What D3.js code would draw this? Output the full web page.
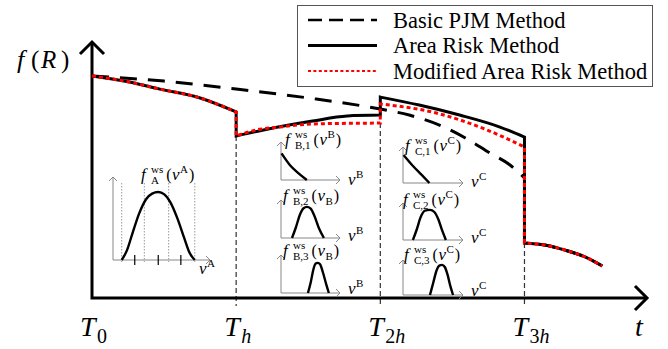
<!DOCTYPE html>
<html>
<head>
<meta charset="utf-8">
<script src="https://cdn.jsdelivr.net/npm/d3@7/dist/d3.min.js"></script>
<style>
  body { margin: 0; background: #fff; }
  svg { display: block; }
</style>
</head>
<body>
<div id="chart"></div>
<script>
// time in units of h, f(R) normalised so that f(R) at T0 = 1
const TIME_TICKS = [0, 1, 2, 3];
const TIME_SUBS = [['0'], ['h'], ['2', 'h'], ['3', 'h']];
const GUIDE_TIMES = [1, 2, 3];
const GUIDE_TOPS = [0.730, 0.788, 0.248];

const LEGEND_LABELS = ['Basic PJM Method', 'Area Risk Method', 'Modified Area Risk Method'];

const FIRST_PERIOD = [[0, 1.0], [0.26, 0.973], [0.47, 0.941], [0.75, 0.901], [1.0, 0.838]];
const TAIL = [[3.0, 0.248], [3.14, 0.239], [3.28, 0.216], [3.42, 0.185], [3.54, 0.144]];

const PJM = [
  [[0, 1.0], [0.5, 0.977], [1.0, 0.941], [1.5, 0.901], [2.0, 0.851], [2.2, 0.824],
   [2.41, 0.779], [2.59, 0.721], [2.76, 0.653], [2.9, 0.599], [3.0, 0.541]],
  TAIL
];
const AREA = [
  FIRST_PERIOD,
  [[1.0, 0.730], [1.19, 0.757], [1.53, 0.797], [1.77, 0.820], [2.0, 0.824]],
  [[2.0, 0.905], [2.27, 0.869], [2.55, 0.824], [2.83, 0.770], [3.0, 0.725]],
  TAIL
];
const MODIFIED = [
  FIRST_PERIOD,
  [[1.0, 0.730], [1.14, 0.757], [1.3, 0.770], [1.53, 0.784], [2.0, 0.788]],
  [[2.0, 0.874], [2.39, 0.833], [2.74, 0.757], [3.0, 0.680]],
  TAIL
];

// wind speed densities in the small panels (both axes 0..1)
const CURVE_A = [[0.10, 0], [0.16, 0.12], [0.22, 0.32], [0.30, 0.58], [0.38, 0.76], [0.45, 0.83],
  [0.52, 0.85], [0.59, 0.82], [0.66, 0.72], [0.74, 0.52], [0.82, 0.27], [0.88, 0.09], [0.94, 0]];
const A_DOTTED = [0.10, 0.36, 0.64, 0.94];
const A_TICKS = [0.25, 0.52, 0.78];
const CURVE_B1 = [[0.01, 0.76], [0.16, 0.43], [0.32, 0.19], [0.47, 0]];
const CURVE_B2 = [[0.2, 0], [0.27, 0.3], [0.34, 0.65], [0.41, 0.85], [0.47, 0.89], [0.54, 0.84],
  [0.61, 0.62], [0.69, 0.28], [0.78, 0]];
const CURVE_B3 = [[0.49, 0], [0.54, 0.3], [0.59, 0.68], [0.63, 0.84], [0.67, 0.86], [0.71, 0.82],
  [0.76, 0.6], [0.82, 0.26], [0.87, 0]];
const CURVE_C1 = [[0.01, 0.8], [0.19, 0.47], [0.34, 0.23], [0.48, 0]];
const CURVE_C2 = [[0.18, 0], [0.25, 0.3], [0.32, 0.65], [0.4, 0.84], [0.49, 0.86], [0.57, 0.8],
  [0.64, 0.6], [0.71, 0.28], [0.78, 0]];
const CURVE_C3 = [[0.49, 0], [0.55, 0.35], [0.61, 0.7], [0.66, 0.84], [0.71, 0.86], [0.76, 0.8],
  [0.81, 0.58], [0.86, 0.26], [0.91, 0]];

const W = 668, H = 349;
const X_END = 3.85, Y_END = 1.153;
const MATH = "'Liberation Serif', 'Times New Roman', serif";

const svg = d3.select('#chart').append('svg').attr('width', W).attr('height', H);

const x = d3.scaleLinear().domain([0, X_END]).range([92, 647]);
const y = d3.scaleLinear().domain([0, 1]).range([298, 76]);

// dashed guides at the period boundaries
svg.selectAll('.guide')
  .data(GUIDE_TIMES)
  .join('line')
  .attr('x1', (d) => x(d)).attr('x2', (d) => x(d))
  .attr('y1', (d, i) => y(GUIDE_TOPS[i]))
  .attr('y2', y(0) + 8)
  .attr('stroke', '#333')
  .attr('stroke-width', 1.2)
  .attr('stroke-dasharray', '5,3');

// main axes with open arrow heads
const axes = svg.append('g').attr('fill', 'none').attr('stroke', '#000')
  .attr('stroke-width', 3).attr('stroke-linejoin', 'miter');
axes.append('path').attr('d', `M${x(0)},${y(Y_END)}V${y(0)}H${x(X_END)}`);
axes.append('path').attr('d', `M${x(X_END) - 12},${y(0) - 12}L${x(X_END)},${y(0)}L${x(X_END) - 12},${y(0) + 12}`);
axes.append('path').attr('d', `M${x(0) - 12},${y(Y_END) + 12}L${x(0)},${y(Y_END)}L${x(0) + 12},${y(Y_END) + 12}`);

const line = d3.line().x((d) => x(d[0])).y((d) => y(d[1])).curve(d3.curveMonotoneX);
function pathOf(segments) {
  return segments.map((s, i) => {
    const d = line(s);
    return i ? 'L' + d.slice(1) : d;
  }).join('');
}

const SERIES = [
  { segs: PJM, color: '#000', dash: '17,11' },
  { segs: AREA, color: '#000', dash: null },
  { segs: MODIFIED, color: '#f00', dash: '4,3' }
];
svg.selectAll('.series')
  .data(SERIES)
  .join('path')
  .attr('d', (d) => pathOf(d.segs))
  .attr('fill', 'none')
  .attr('stroke', (d) => d.color)
  .attr('stroke-width', 3)
  .attr('stroke-dasharray', (d) => d.dash);

// legend
const lg = svg.append('g');
lg.append('rect').attr('x', 297.5).attr('y', 5.5).attr('width', 355).attr('height', 81)
  .attr('fill', '#fff').attr('stroke', '#555').attr('stroke-width', 1);
const LEGEND_STYLE = [
  { color: '#000', dash: '14,7', width: 2.6 },
  { color: '#000', dash: null, width: 2.8 },
  { color: '#f00', dash: '3,2.4', width: 2 }
];
LEGEND_LABELS.forEach((label, i) => {
  const cy = 20 + i * 25.5;
  lg.append('line').attr('x1', 308).attr('x2', 377).attr('y1', cy).attr('y2', cy)
    .attr('stroke', LEGEND_STYLE[i].color).attr('stroke-width', LEGEND_STYLE[i].width)
    .attr('stroke-dasharray', LEGEND_STYLE[i].dash);
  lg.append('text').attr('x', 393).attr('y', cy + 7.5)
    .attr('font-family', MATH).attr('font-size', 22.5).attr('fill', '#000').text(label);
});

// axis labels
function addText(g, str, tx, ty, size, italic) {
  const el = g.append('text').attr('x', tx).attr('y', ty)
    .attr('font-family', MATH).attr('font-size', size)
    .attr('font-style', italic ? 'italic' : 'normal').attr('fill', '#000').text(str);
  return el.node().getComputedTextLength();
}

const labels = svg.append('g');
TIME_TICKS.forEach((t, i) => {
  const x0 = x(t) - 12;
  addText(labels, 'T', x0, 336, 28, true);
  let cx = x0 + 17;
  TIME_SUBS[i].forEach((s) => {
    cx += addText(labels, s, cx, 343, 20, s === 'h');
  });
});
addText(labels, 't', 635, 336, 28, true);
addText(labels, 'f', 17, 68, 26, true);
addText(labels, '(', 31, 68, 25, false);
addText(labels, 'R', 41, 68, 25, true);
addText(labels, ')', 61, 68, 25, false);

// small density panels
const PANELS = [
  { curve: CURVE_A, ox: 113, oy: 260, w: 87, h: 80, top: 177, right: 210, fx: 141, fy: 180, sub: 'A', arg: 'A', argSub: false, vx: 199, vy: 274, name: 'A' },
  { curve: CURVE_B1, ox: 281, oy: 180, w: 55, h: 35, top: 142, right: 340, fx: 285, fy: 145, sub: 'B,1', arg: 'B', argSub: false, vx: 348, vy: 185, name: 'B' },
  { curve: CURVE_B2, ox: 281, oy: 238, w: 55, h: 35, top: 200, right: 340, fx: 283, fy: 201, sub: 'B,2', arg: 'B', argSub: true, vx: 348, vy: 241, name: 'B' },
  { curve: CURVE_B3, ox: 281, oy: 293, w: 55, h: 35, top: 255, right: 340, fx: 283, fy: 256, sub: 'B,3', arg: 'B', argSub: true, vx: 348, vy: 294, name: 'B' },
  { curve: CURVE_C1, ox: 403, oy: 183, w: 55, h: 35, top: 147, right: 463, fx: 405, fy: 151, sub: 'C,1', arg: 'C', argSub: false, vx: 471, vy: 187, name: 'C' },
  { curve: CURVE_C2, ox: 403, oy: 240, w: 55, h: 35, top: 203, right: 463, fx: 403, fy: 205, sub: 'C,2', arg: 'C', argSub: false, vx: 471, vy: 243, name: 'C' },
  { curve: CURVE_C3, ox: 403, oy: 295, w: 55, h: 35, top: 260, right: 463, fx: 404, fy: 260, sub: 'C,3', arg: 'C', argSub: false, vx: 471, vy: 296, name: 'C' }
];

PANELS.forEach((p) => {
  const g = svg.append('g');
  const px = d3.scaleLinear().domain([0, 1]).range([p.ox, p.ox + p.w]);
  const py = d3.scaleLinear().domain([0, 1]).range([p.oy, p.oy - p.h]);

  if (p.name === 'A') {
    g.selectAll('.dot').data(A_DOTTED).join('line')
      .attr('x1', (d) => px(d)).attr('x2', (d) => px(d))
      .attr('y1', p.top + 6).attr('y2', p.oy + 2)
      .attr('stroke', '#999').attr('stroke-width', 1).attr('stroke-dasharray', '1.5,1.5');
  }

  g.append('path')
    .attr('d', `M${p.ox},${p.top}V${p.oy}H${p.right}`)
    .attr('fill', 'none').attr('stroke', '#888').attr('stroke-width', 1);
  g.append('path')
    .attr('d', `M${p.ox - 4},${p.top + 4}L${p.ox},${p.top}L${p.ox + 4},${p.top + 4}` +
      `M${p.right - 4},${p.oy - 4}L${p.right},${p.oy}L${p.right - 4},${p.oy + 4}`)
    .attr('fill', 'none').attr('stroke', '#888').attr('stroke-width', 1);

  if (p.name === 'A') {
    g.selectAll('.tick').data(A_TICKS).join('line')
      .attr('x1', (d) => px(d)).attr('x2', (d) => px(d))
      .attr('y1', p.oy - 5).attr('y2', p.oy + 5)
      .attr('stroke', '#000').attr('stroke-width', 1.2);
  }

  g.append('path')
    .attr('d', d3.line().x((d) => px(d[0])).y((d) => py(d[1])).curve(d3.curveMonotoneX)(p.curve))
    .attr('fill', 'none').attr('stroke', '#000').attr('stroke-width', 2.4);

  // f^ws_sub(v^arg) label
  let cx = p.fx;
  addText(g, 'f', cx, p.fy, 17, true);
  cx += 10;
  const w1 = addText(g, 'ws', cx, p.fy - 7, 11, false);
  const w2 = addText(g, p.sub, cx, p.fy + 4, 11, false);
  cx += Math.max(w1, w2) + 3;
  cx += addText(g, '(', cx, p.fy, 16, false) + 0.5;
  cx += addText(g, 'v', cx, p.fy, 17, true) + 0.5;
  cx += addText(g, p.arg, cx, p.argSub ? p.fy + 4 : p.fy - 7, 11, false) + 1;
  addText(g, ')', cx, p.fy, 16, false);

  // v^name axis label
  const vw = addText(g, 'v', p.vx, p.vy, 17, true);
  addText(g, p.name, p.vx + vw + 0.5, p.vy - 7, 11, false);
});
</script>
</body>
</html>
